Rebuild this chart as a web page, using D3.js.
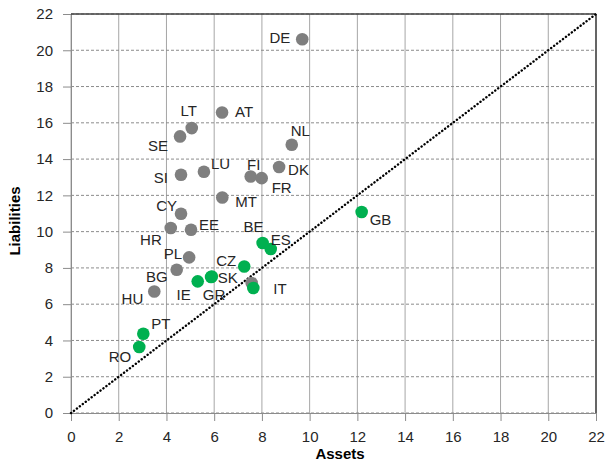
<!DOCTYPE html>
<html>
<head>
<meta charset="utf-8">
<script src="https://cdn.jsdelivr.net/npm/d3@7"></script>
<style>
  html, body { margin: 0; padding: 0; background: #ffffff; }
  svg { display: block; font-family: "Liberation Sans", Arial, sans-serif; }
</style>
</head>
<body>
<div id="chart"></div>
<script>
// ---- data ----
const countries = ["DE","AT","NL","LT","SE","SI","LU","FI","FR","DK","MT","CY","HR","EE","PL","BG","HU","LV",
                   "GB","BE","ES","CZ","IT","IE","GR","SK","PT","RO"];
const assets =      [9.69, 6.33, 9.25, 5.06, 4.57, 4.61, 5.57, 7.53, 7.99, 8.72, 6.34, 4.61, 4.18, 5.03, 4.95, 4.43, 3.49, 7.57,
                     12.18, 8.03, 8.37, 7.26, 7.64, 5.31, 5.87, 5.90, 3.03, 2.86];
const liabilities = [20.61, 16.57, 14.79, 15.71, 15.25, 13.14, 13.30, 13.04, 12.95, 13.56, 11.88, 10.99, 10.20, 10.10, 8.58, 7.90, 6.70, 7.17,
                     11.08, 9.37, 9.04, 8.08, 6.89, 7.26, 7.50, 7.53, 4.37, 3.64];
const group = ["other","other","other","other","other","other","other","other","other","other","other","other","other","other","other","other","other","other",
               "green","green","green","green","green","green","green","green","green","green"];
const showLabel = [true,true,true,true,true,true,true,true,true,true,true,true,true,true,true,true,true,false,
                   true,true,true,true,true,true,true,true,true,true];
const xTicks = [0,2,4,6,8,10,12,14,16,18,20,22];
const yTicks = [0,2,4,6,8,10,12,14,16,18,20,22];
const diagonal = [[0,0],[22,22]];
const xTitle = "Assets";
const yTitle = "Liabilities";

// ---- label placement (layout only) ----
const labelPlace = {
  DE:{dx:-12,dy:4,a:"end"}, AT:{dx:13,dy:5,a:"start"}, NL:{dx:-1,dy:-9,a:"start"},
  LT:{dx:-3,dy:-12,a:"middle"}, SE:{dx:-12,dy:15,a:"end"}, SI:{dx:-13,dy:8,a:"end"},
  LU:{dx:7,dy:-3,a:"start"}, FI:{dx:3,dy:-7,a:"middle"}, FR:{dx:10,dy:15,a:"start"},
  DK:{dx:9,dy:8,a:"start"}, MT:{dx:13,dy:9,a:"start"}, CY:{dx:-4,dy:-3,a:"end"},
  HR:{dx:-9,dy:17,a:"end"}, EE:{dx:8,dy:0,a:"start"}, PL:{dx:-7,dy:2,a:"end"},
  BG:{dx:-9,dy:12,a:"end"}, HU:{dx:-11,dy:13,a:"end"}, LV:{dx:0,dy:0,a:"start"},
  GB:{dx:8,dy:13,a:"start"}, BE:{dx:-9,dy:-11,a:"middle"}, ES:{dx:0,dy:-4,a:"start"},
  CZ:{dx:-8,dy:0,a:"end"}, IT:{dx:20,dy:6,a:"start"}, IE:{dx:-7,dy:19,a:"end"},
  GR:{dx:3,dy:23,a:"middle"}, SK:{dx:6,dy:7,a:"start"}, PT:{dx:8,dy:-5,a:"start"},
  RO:{dx:-8,dy:15,a:"end"}
};
const colors = { other: "#7f7f7f", green: "#00b050" };

// ---- layout ----
const W = 607, H = 461;
const m = { left: 71, right: 11, top: 14, bottom: 48 };
const iw = W - m.left - m.right, ih = H - m.top - m.bottom;

const svg = d3.select("#chart").append("svg").attr("width", W).attr("height", H);
const g = svg.append("g").attr("transform", `translate(${m.left},${m.top})`);

const x = d3.scaleLinear().domain([0, 22]).range([0, iw]);
const y = d3.scaleLinear().domain([0, 22]).range([ih, 0]);

// grid
g.append("g").selectAll("line").data(xTicks).join("line")
  .attr("x1", d => x(d)).attr("x2", d => x(d)).attr("y1", 0).attr("y2", ih)
  .attr("stroke", "#a6a6a6").attr("stroke-width", 1);
g.append("g").selectAll("line").data(yTicks).join("line")
  .attr("x1", 0).attr("x2", iw).attr("y1", d => y(d)).attr("y2", d => y(d))
  .attr("stroke", "#8c8c8c").attr("stroke-width", 1).attr("stroke-dasharray", "3,2");

// axes
const xAxis = g.append("g").attr("transform", `translate(0,${ih})`)
  .call(d3.axisBottom(x).tickValues(xTicks).tickSize(8).tickPadding(10).tickFormat(d3.format("d")));
const yAxis = g.append("g")
  .call(d3.axisLeft(y).tickValues(yTicks).tickSize(8).tickPadding(10).tickFormat(d3.format("d")));
[xAxis, yAxis].forEach(ax => {
  ax.select(".domain").attr("stroke", "#8c8c8c");
  ax.selectAll(".tick line").attr("stroke", "#8c8c8c");
  ax.selectAll(".tick text").attr("fill", "#262626").style("font-size", "15px")
    .style("font-family", "'Liberation Sans', Arial, sans-serif");
});

// top and right border
g.append("line").attr("x1", 0).attr("x2", iw).attr("y1", 0).attr("y2", 0)
  .attr("stroke", "#404040").attr("stroke-width", 1.5);
g.append("line").attr("x1", iw).attr("x2", iw).attr("y1", 0).attr("y2", ih)
  .attr("stroke", "#404040").attr("stroke-width", 1.5);

// diagonal dotted line
g.append("path")
  .attr("d", d3.line().x(d => x(d[0])).y(d => y(d[1]))(diagonal))
  .attr("fill", "none").attr("stroke", "#000").attr("stroke-width", 2.4)
  .attr("stroke-linecap", "round").attr("stroke-dasharray", "0.1,3.6");

// points
const pts = countries.map((c, i) => ({ c, ax: assets[i], li: liabilities[i], g: group[i], show: showLabel[i] }));
g.append("g").selectAll("circle").data(pts).join("circle")
  .attr("cx", d => x(d.ax)).attr("cy", d => y(d.li)).attr("r", 6.3)
  .attr("fill", d => colors[d.g]);

// labels
g.append("g").selectAll("text").data(pts.filter(d => d.show)).join("text")
  .attr("x", d => x(d.ax) + labelPlace[d.c].dx)
  .attr("y", d => y(d.li) + labelPlace[d.c].dy)
  .attr("text-anchor", d => labelPlace[d.c].a)
  .attr("fill", "#262626").style("font-size", "15px")
  .text(d => d.c);

// axis titles
svg.append("text").attr("x", 340).attr("y", 459).attr("text-anchor", "middle")
  .style("font-size", "15px").style("font-weight", "bold").attr("fill", "#000").text(xTitle);
svg.append("text").attr("transform", "translate(20,221) rotate(-90)").attr("text-anchor", "middle")
  .style("font-size", "15px").style("font-weight", "bold").attr("fill", "#000").text(yTitle);
</script>
</body>
</html>
